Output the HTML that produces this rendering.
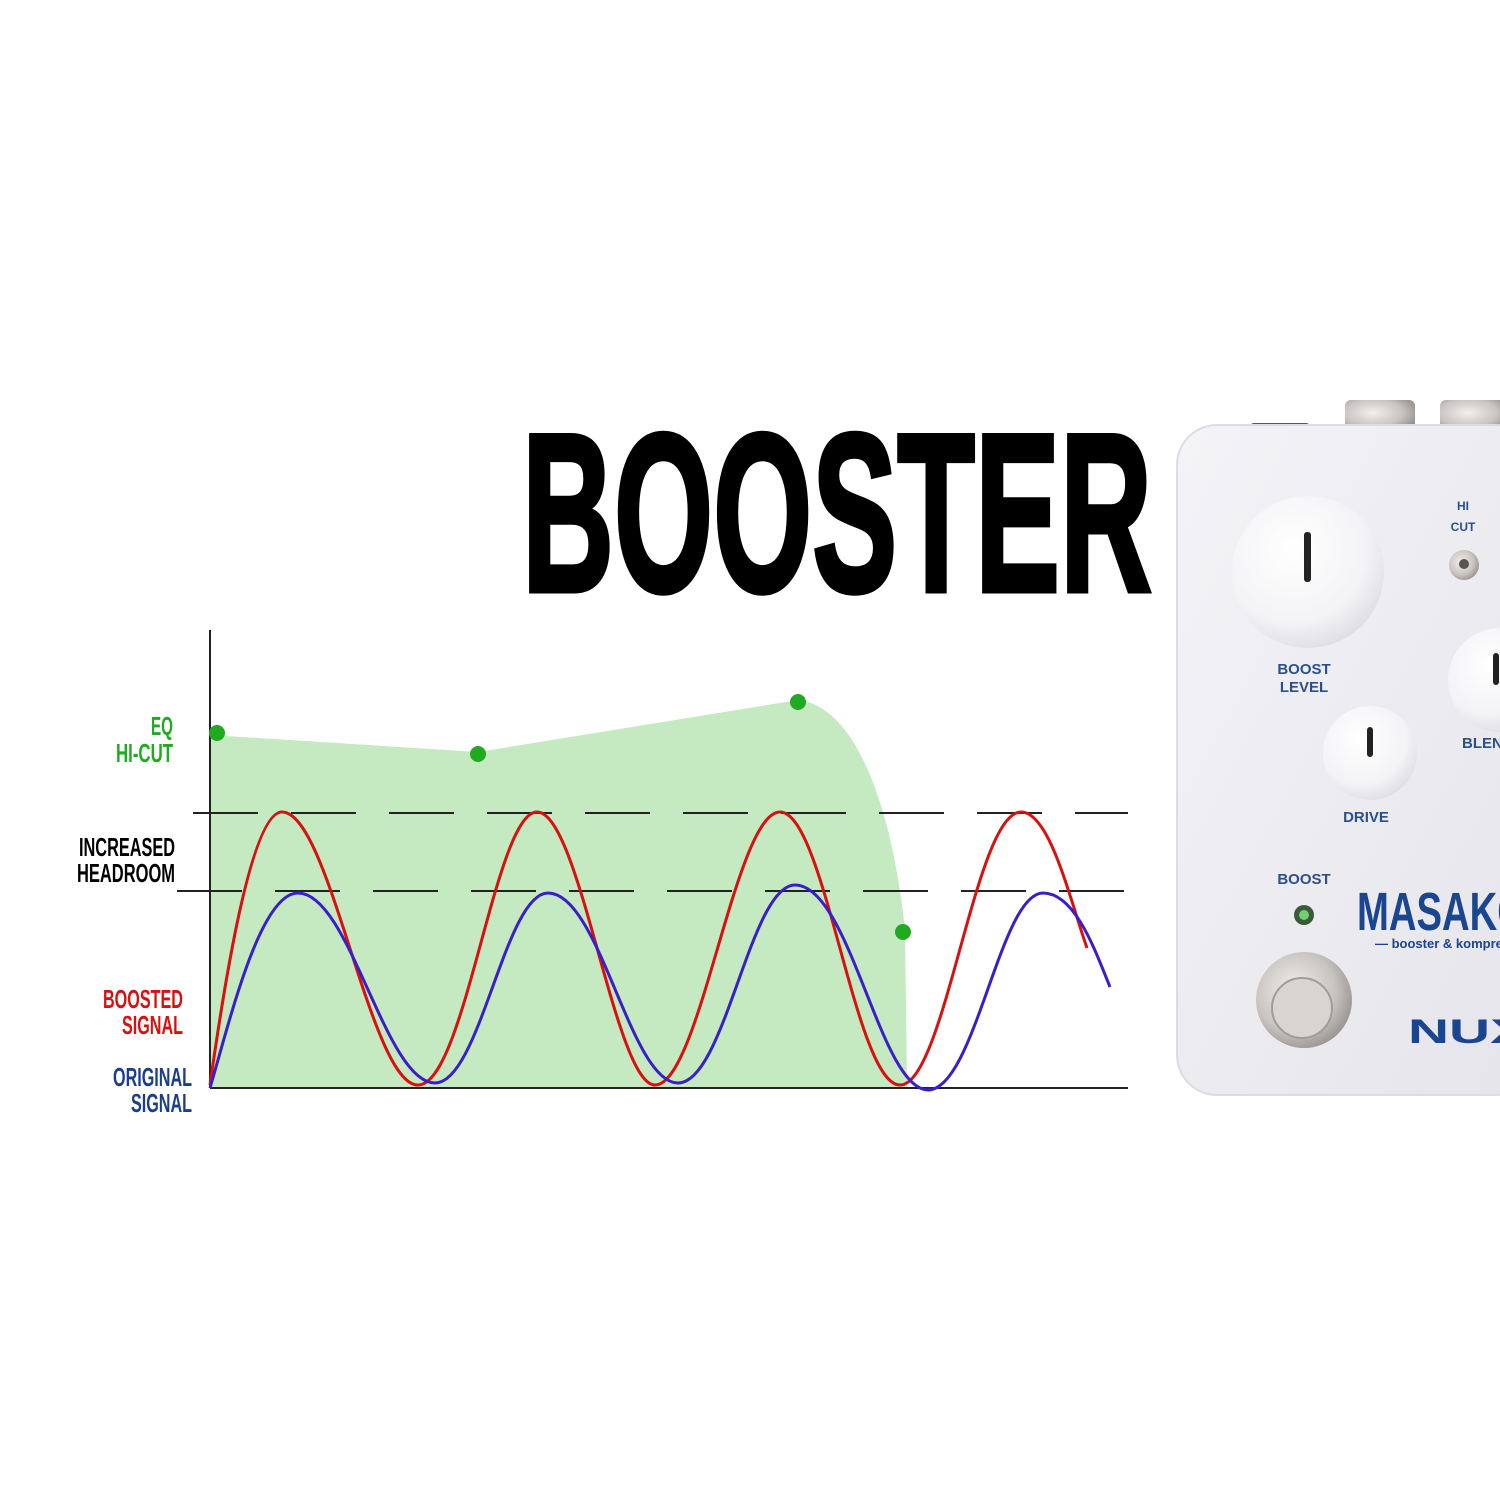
<!DOCTYPE html>
<html><head><meta charset="utf-8"><style>html,body{margin:0;padding:0;background:#fff}svg{display:block}</style></head>
<body>
<svg width="1500" height="1500" viewBox="0 0 1500 1500" xmlns="http://www.w3.org/2000/svg">
<defs>
<linearGradient id="body" x1="0" y1="0" x2="1" y2="1"><stop offset="0" stop-color="#f4f4f7"/><stop offset="1" stop-color="#e4e4ea"/></linearGradient>
<radialGradient id="knob" cx="0.4" cy="0.35" r="0.7"><stop offset="0" stop-color="#ffffff"/><stop offset="0.7" stop-color="#f3f3f6"/><stop offset="1" stop-color="#dcdce2"/></radialGradient>
<radialGradient id="metal" cx="0.4" cy="0.4" r="0.7"><stop offset="0" stop-color="#f2f0ec"/><stop offset="0.6" stop-color="#c8c4bf"/><stop offset="1" stop-color="#8d8a86"/></radialGradient>
</defs>
<rect width="1500" height="1500" fill="#fff"/>
<text x="522" y="591" font-family="Liberation Sans, sans-serif" font-weight="bold" font-size="226" textLength="630" lengthAdjust="spacingAndGlyphs" fill="#000" stroke="#000" stroke-width="5">BOOSTER</text>
<path d="M210,735 L478,752 L798,700 C850,705 890,790 905,930 L907,1087 L210,1087 Z" fill="#c5e9c0"/>
<line x1="210" y1="630" x2="210" y2="1088" stroke="#222" stroke-width="2"/>
<line x1="210" y1="1088" x2="1128" y2="1088" stroke="#222" stroke-width="2"/>
<line x1="193" y1="813" x2="1128" y2="813" stroke="#222" stroke-width="2" stroke-dasharray="65,33"/>
<line x1="177" y1="891" x2="1128" y2="891" stroke="#222" stroke-width="2" stroke-dasharray="65,33"/>
<path d="M210,1085 C222,1000 250,812 282,812 C330,812 370,1085 418,1085 C465,1085 495,812 537,812 C580,812 615,1085 655,1085 C700,1085 735,812 780,812 C825,812 855,1085 900,1085 C945,1085 975,812 1021,812 C1050,812 1070,900 1087,948" fill="none" stroke="#d81010" stroke-width="3"/>
<path d="M210,1088 C230,1020 260,893 298,893 C350,893 385,1083 435,1083 C480,1083 505,893 548,893 C600,893 630,1083 678,1083 C725,1083 750,885 795,885 C850,885 880,1090 928,1090 C975,1090 1000,893 1043,893 C1075,893 1095,950 1110,987" fill="none" stroke="#3a1fc8" stroke-width="3"/>
<g fill="#1faa1f"><circle cx="217" cy="733" r="8"/><circle cx="478" cy="754" r="8"/><circle cx="798" cy="702" r="8"/><circle cx="903" cy="932" r="8"/></g>
<g font-family="Liberation Sans, sans-serif" font-weight="bold" font-size="26" text-anchor="end">
<text x="173" y="735" fill="#1faa1f" textLength="22" lengthAdjust="spacingAndGlyphs">EQ</text>
<text x="173" y="762" fill="#1faa1f" textLength="57" lengthAdjust="spacingAndGlyphs">HI-CUT</text>
<text x="175" y="856" fill="#000" textLength="96" lengthAdjust="spacingAndGlyphs">INCREASED</text>
<text x="175" y="882" fill="#000" textLength="98" lengthAdjust="spacingAndGlyphs">HEADROOM</text>
<text x="183" y="1008" fill="#d81010" textLength="80" lengthAdjust="spacingAndGlyphs">BOOSTED</text>
<text x="183" y="1034" fill="#d81010" textLength="61" lengthAdjust="spacingAndGlyphs">SIGNAL</text>
<text x="192" y="1086" fill="#1a3d8f" textLength="79" lengthAdjust="spacingAndGlyphs">ORIGINAL</text>
<text x="192" y="1112" fill="#1a3d8f" textLength="61" lengthAdjust="spacingAndGlyphs">SIGNAL</text>
</g>
<rect x="1250" y="423" width="60" height="10" rx="4" fill="#555"/>
<g><rect x="1345" y="400" width="70" height="32" rx="6" fill="url(#metal)"/><rect x="1440" y="400" width="70" height="32" rx="6" fill="url(#metal)"/></g>
<rect x="1177" y="425" width="360" height="670" rx="40" fill="url(#body)" stroke="#dcdce2" stroke-width="2"/>
<circle cx="1308" cy="505" r="4" fill="#666"/>
<circle cx="1308" cy="572" r="76" fill="url(#knob)"/>
<rect x="1304" y="532" width="7" height="50" rx="3" fill="#222"/>
<circle cx="1370" cy="753" r="47" fill="url(#knob)"/>
<rect x="1367" y="727" width="6" height="30" rx="3" fill="#222"/>
<circle cx="1500" cy="680" r="52" fill="url(#knob)"/>
<rect x="1493" y="653" width="6" height="32" rx="3" fill="#222"/>
<circle cx="1464" cy="565" r="15" fill="url(#metal)"/>
<circle cx="1464" cy="564" r="5" fill="#555"/>
<circle cx="1304" cy="915" r="10" fill="#3a5a3a"/><circle cx="1304" cy="915" r="5" fill="#6fd06f"/>
<circle cx="1304" cy="1000" r="48" fill="url(#metal)"/>
<circle cx="1302" cy="1008" r="30" fill="#d8d4d0" stroke="#a09c98" stroke-width="2"/>
<g font-family="Liberation Sans, sans-serif" font-weight="bold" fill="#2a4f8f" text-anchor="middle" font-size="15">
<text x="1304" y="674">BOOST</text><text x="1304" y="692">LEVEL</text>
<text x="1366" y="822">DRIVE</text>
<text x="1304" y="884">BOOST</text>
<text x="1463" y="510" font-size="12">HI</text><text x="1463" y="531" font-size="12">CUT</text>
<text x="1462" y="748" text-anchor="start">BLEND</text>
</g>
<text x="1357" y="930" font-family="Liberation Sans, sans-serif" font-weight="bold" font-size="54" fill="#1a4590" textLength="170" lengthAdjust="spacingAndGlyphs">MASAKO</text>
<text x="1375" y="948" font-family="Liberation Sans, sans-serif" font-weight="bold" font-size="13" fill="#1a4590">— booster &amp; kompressor</text>
<text x="1408" y="1043" font-family="Liberation Sans, sans-serif" font-weight="bold" font-size="34" fill="#1a4590" textLength="120" lengthAdjust="spacingAndGlyphs">NUX</text>
</svg>
</body></html>
